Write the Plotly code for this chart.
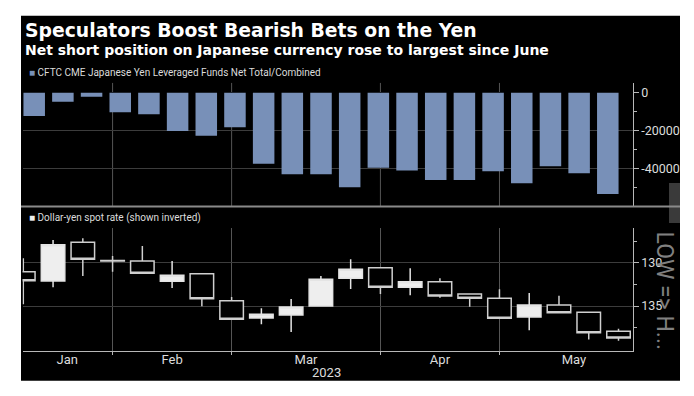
import plotly.graph_objects as go

W, H = 694, 396

# ---------------- data ----------------
# CFTC CME Japanese Yen leveraged funds net total (weekly, contracts)
bar_weeks = ["2023-01-03", "2023-01-10", "2023-01-17", "2023-01-24", "2023-01-31",
             "2023-02-07", "2023-02-14", "2023-02-21", "2023-02-28", "2023-03-07",
             "2023-03-14", "2023-03-21", "2023-03-28", "2023-04-04", "2023-04-11",
             "2023-04-18", "2023-04-25", "2023-05-02", "2023-05-09", "2023-05-16",
             "2023-05-23"]
net_positions = [-12300, -4700, -2100, -10300, -11400, -20200, -22600, -18200,
                 -37400, -42900, -42900, -49800, -39500, -41000, -45900, -45900,
                 -41400, -47700, -38700, -42400, -53300]

# Dollar-yen weekly candles (week ending)
candle_weeks = ["2023-01-06", "2023-01-13", "2023-01-20", "2023-01-27", "2023-02-03",
                "2023-02-10", "2023-02-17", "2023-02-24", "2023-03-03", "2023-03-10",
                "2023-03-17", "2023-03-24", "2023-03-31", "2023-04-07", "2023-04-14",
                "2023-04-21", "2023-04-28", "2023-05-05", "2023-05-12", "2023-05-19",
                "2023-05-26"]
usdjpy_open = [131.04, 132.11, 127.65, 129.74, 129.80, 132.15, 131.27, 134.38, 136.38, 136.03,
               134.99, 131.80, 130.58, 132.84, 132.19, 133.61, 134.11, 136.26, 134.88, 135.72,
               137.91]
usdjpy_high = [134.80, 132.84, 131.53, 131.04, 131.22, 132.92, 135.03, 136.53, 137.10, 137.99,
               134.99, 133.03, 133.61, 133.76, 134.04, 135.07, 136.50, 137.80, 135.77, 138.84,
               139.00]
usdjpy_low = [129.49, 127.38, 127.19, 129.23, 128.07, 129.80, 131.27, 133.96, 135.26, 134.19,
              131.53, 129.61, 130.58, 130.65, 131.80, 133.61, 133.07, 133.49, 133.81, 135.72,
              137.61]
usdjpy_close = [132.08, 127.92, 129.61, 129.80, 131.22, 131.45, 134.15, 136.53, 135.95, 135.11,
                131.91, 130.76, 132.84, 132.19, 133.84, 134.11, 136.41, 134.88, 135.77, 138.07,
                138.69]

month_labels = ["Jan", "Feb", "Mar", "Apr", "May"]
month_end_weeks = [3, 7, 12, 16]          # index of last weekly candle of Jan..Apr
month_bounds = [-0.05, 3, 7, 12, 16, 21]  # month spans in candle-week units
year_label = "2023"

pos_ticks = [0, -20000, -40000]
pos_minor_ticks = [-10000, -30000, -50000]
yen_ticks = [130, 135]
yen_minor_ticks = [127.5, 132.5, 137.5]

title = "Speculators Boost Bearish Bets on the Yen"
subtitle = "Net short position on Japanese currency rose to largest since June"
legend_top = "CFTC CME Japanese Yen Leveraged Funds Net Total/Combined"
legend_bottom = "Dollar-yen spot rate (shown inverted)"

# ---------------- styles ----------------
BAR_COLOR = "#7890b8"
TXT = "#dcdcdc"
GRID = "#3c3c3c"
VGRID = "#555555"
AXIS = "#b8b8b8"


def px(x):
    return x / W


def py(y):
    return 1 - y / H


x_dom = [px(22.5), px(632.7)]
top_dom = [py(206.7), py(82.7)]
bot_dom = [py(351), py(228)]

bar_x = list(range(len(bar_weeks)))
candle_x = list(range(len(candle_weeks)))
month_pos = [(month_bounds[i] + month_bounds[i + 1]) / 2 for i in range(len(month_labels))]

fig = go.Figure()

fig.add_trace(go.Bar(
    x=bar_x, y=net_positions, customdata=bar_weeks,
    marker=dict(color=BAR_COLOR, line=dict(width=0)),
    xaxis="x", yaxis="y", showlegend=False,
    hovertemplate="%{customdata}: %{y}<extra></extra>",
))

fig.add_trace(go.Candlestick(
    x=candle_x, open=usdjpy_open, high=usdjpy_high, low=usdjpy_low, close=usdjpy_close,
    text=candle_weeks,
    increasing=dict(line=dict(color="#cfcfcf", width=1.5), fillcolor="#000000"),
    decreasing=dict(line=dict(color="#e4e4e4", width=1.5), fillcolor="#eeeeee"),
    whiskerwidth=0, xaxis="x2", yaxis="y2", showlegend=False,
))

shapes = [
    # black chart card
    dict(type="rect", xref="paper", yref="paper", x0=px(21), x1=px(680),
         y0=py(380.7), y1=py(15.7), fillcolor="#000000", line=dict(width=0), layer="below"),
    # grey overlay tab at right edge
    dict(type="rect", xref="paper", yref="paper", x0=px(669), x1=px(680),
         y0=py(223), y1=py(183), fillcolor="#3a3a3a", line=dict(width=0), layer="above"),
    # panel separator
    dict(type="line", xref="paper", yref="paper", x0=px(21), x1=px(680),
         y0=py(206.5), y1=py(206.5), line=dict(color="#8a8a8a", width=2), layer="above"),
]
# vertical month gridlines in the top panel (aligned with candle month-ends)
for m in month_end_weeks:
    shapes.append(dict(type="line", xref="x2", yref="y", x0=m, x1=m,
                       y0=-60000, y1=5263, line=dict(color=VGRID, width=1), layer="below"))

annotations = [
    dict(text="<b>" + title + "</b>", x=px(23), y=py(30), xref="paper", yref="paper",
         xanchor="left", yanchor="middle", showarrow=False,
         font=dict(family="DejaVu Sans", size=18.8, color="#ffffff")),
    dict(text="<b>" + subtitle + "</b>", x=px(23), y=py(49.5), xref="paper", yref="paper",
         xanchor="left", yanchor="middle", showarrow=False,
         font=dict(family="DejaVu Sans", size=14.0, color="#ffffff")),
    dict(text='<span style="color:%s">■</span> %s' % (BAR_COLOR, legend_top),
         x=px(26.5), y=py(72.5), xref="paper", yref="paper",
         xanchor="left", yanchor="middle", showarrow=False,
         font=dict(family="Roboto", size=10, color=TXT)),
    dict(text='<span style="color:#eeeeee">■</span> %s' % legend_bottom,
         x=px(26.5), y=py(218), xref="paper", yref="paper",
         xanchor="left", yanchor="middle", showarrow=False,
         font=dict(family="Roboto", size=10, color=TXT)),
    dict(text=year_label, x=10.19, y=py(372.5), xref="x2", yref="paper",
         xanchor="center", yanchor="middle", showarrow=False,
         font=dict(family="Roboto", size=13, color=TXT)),
    dict(text="LOW => H...", x=px(664.5), y=py(291), xref="paper", yref="paper",
         xanchor="center", yanchor="middle", showarrow=False, textangle=90,
         font=dict(family="Roboto", size=23, color="#808080")),
]

fig.update_layout(
    width=W, height=H,
    margin=dict(l=0, r=0, t=0, b=0),
    paper_bgcolor="#ffffff",
    plot_bgcolor="rgba(0,0,0,0)",
    font=dict(family="Roboto", color=TXT, size=12),
    bargap=0.25,
    boxgap=0.21, boxgroupgap=0,
    showlegend=False,
    shapes=shapes,
    annotations=annotations,
    xaxis=dict(domain=x_dom, anchor="y", range=[(22.5 - 34.2) / 28.68, (632.7 - 34.2) / 28.68],
               showgrid=False, zeroline=False, showticklabels=False, ticks="", showline=False,
               fixedrange=True),
    yaxis=dict(domain=top_dom, anchor="x", side="right", range=[-60000, 5263],
               tickvals=pos_ticks, ticktext=[str(v) for v in pos_ticks],
               ticks="outside", ticklen=5, tickcolor=AXIS, tickwidth=1,
               showline=True, linecolor=AXIS, linewidth=1,
               showgrid=True, gridcolor=GRID, gridwidth=1,
               zeroline=True, zerolinecolor="#000000", zerolinewidth=1,
               minor=dict(tickvals=pos_minor_ticks, ticks="outside", ticklen=3,
                          tickcolor=AXIS, showgrid=False),
               tickfont=dict(family="Roboto", size=12.5, color=TXT)),
    xaxis2=dict(domain=x_dom, anchor="y2", range=[(22.5 - 23.3) / 29.76, (632.7 - 23.3) / 29.76],
                tickvals=month_pos, ticktext=month_labels, ticks="",
                showgrid=False, zeroline=False,
                showline=True, linecolor=AXIS, linewidth=1,
                ticklabelstandoff=-4,
                minor=dict(tickvals=month_end_weeks, ticks="outside", ticklen=3,
                           tickcolor=AXIS, showgrid=True, gridcolor=VGRID, gridwidth=1),
                rangeslider=dict(visible=False),
                tickfont=dict(family="Roboto", size=13, color=TXT)),
    yaxis2=dict(domain=bot_dom, anchor="x2", side="right", range=[140.18, 126.0],
                tickvals=yen_ticks, ticktext=[str(v) for v in yen_ticks],
                ticks="outside", ticklen=5, tickcolor=AXIS, tickwidth=1,
                showline=True, linecolor=AXIS, linewidth=1,
                showgrid=True, gridcolor=GRID, gridwidth=1, zeroline=False,
                minor=dict(tickvals=yen_minor_ticks, ticks="outside", ticklen=3,
                           tickcolor=AXIS, showgrid=False),
                tickfont=dict(family="Roboto", size=12.5, color=TXT)),
)

fig.write_html("out.html",
               config={"displayModeBar": False},
               post_script="document.body.style.margin='0';document.body.style.padding='0';")
